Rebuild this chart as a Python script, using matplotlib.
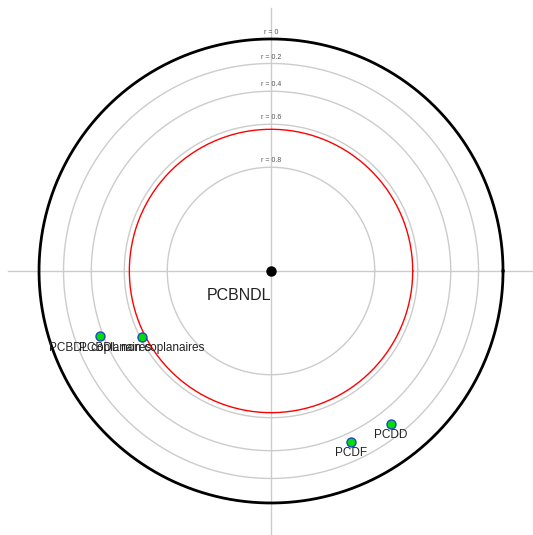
import numpy as np
import matplotlib.pyplot as plt

# correlation with the reference variable, angle of the point (degrees)
names = ['PCBDL coplanaires', 'PCBDL non coplanaires', 'PCDF', 'PCDD']
r = [0.38, 0.61, 0.34, 0.30]
angle = [201, 207, -65, -52]
ref_name = 'PCBNDL'
r_levels = [0, 0.2, 0.4, 0.6, 0.8]
r_signif = 0.627

def rad(v):
    # distance from centre for a correlation value
    return np.sqrt(1 - np.asarray(v))

fig = plt.figure(figsize=(5.33, 5.35), dpi=100)
ax = fig.add_axes([0, 0, 1, 1])
ax.set_xlim(-1.168, 1.129)
ax.set_ylim(-1.138, 1.168)
ax.set_aspect('equal')
ax.axis('off')
plt.rcParams['font.family'] = ['Liberation Sans', 'DejaVu Sans']

t = np.linspace(0, 2 * np.pi, 400)
ax.plot([-1.134, 1.134], [0, 0], color='#cccccc', lw=1, zorder=1)
ax.plot([0, 0], [-1.134, 1.134], color='#cccccc', lw=1, zorder=1)

for lev in r_levels:
    R = rad(lev)
    if lev == 0:
        ax.plot(R * np.cos(t), R * np.sin(t), color='black', lw=2, zorder=2)
    else:
        ax.plot(R * np.cos(t), R * np.sin(t), color='#cccccc', lw=1, zorder=2)
    ax.text(0, R + 0.012, f'r = {lev:g}', ha='center', va='bottom',
            fontsize=5, color='#555555')

R = rad(r_signif)
ax.plot(R * np.cos(t), R * np.sin(t), color='red', lw=1, zorder=3)

ax.plot(0, 0, 'o', color='black', ms=6.5, zorder=5)
ax.annotate(ref_name, (0, 0), xytext=(0, -12), textcoords='offset points',
            ha='right', va='top', fontsize=11.5, color='#222222')

d = rad(r)
a = np.radians(angle)
xs = d * np.cos(a)
ys = d * np.sin(a)
ax.scatter(xs, ys, s=42, color='#00e000', edgecolor='#2244cc', lw=1, zorder=6)
for n, x, y in zip(names, xs, ys):
    ax.annotate(n, (x, y), xytext=(0, -4), textcoords='offset points',
                ha='center', va='top', fontsize=8.5, color='#222222')

fig.savefig('out.png', dpi=100)
